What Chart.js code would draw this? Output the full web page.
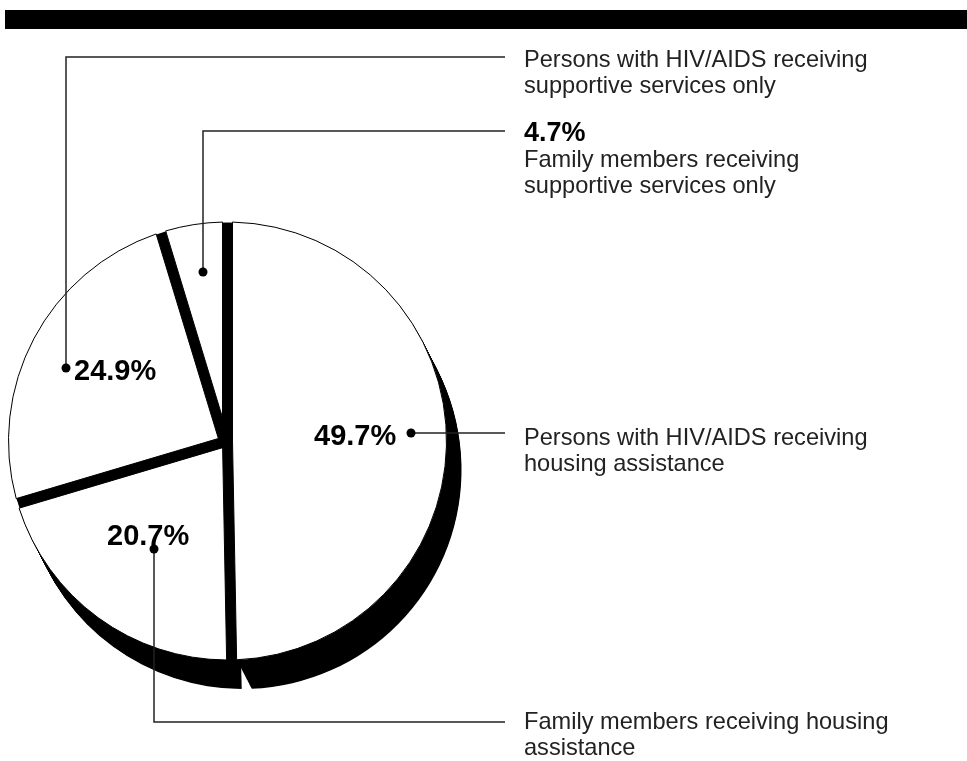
<!DOCTYPE html>
<html>
<head>
<meta charset="utf-8">
<script src="https://cdn.jsdelivr.net/npm/chart.js@4.4.1/dist/chart.umd.min.js"></script>
<style>
  body { margin: 0; background: #fff; }
  canvas { display: block; }
</style>
</head>
<body>
<canvas id="pie" width="967" height="761"></canvas>
<script>
// slices, clockwise from 12 o'clock
const categories = [
  "Persons with HIV/AIDS receiving housing assistance",
  "Family members receiving housing assistance",
  "Persons with HIV/AIDS receiving supportive services only",
  "Family members receiving supportive services only",
];
const shares = [49.7, 20.7, 24.9, 4.7];
// text shown next to each slice's leader line (line breaks as in the print)
const labelLines = [
  ["Persons with HIV/AIDS receiving", "housing assistance"],
  ["Family members receiving housing", "assistance"],
  ["Persons with HIV/AIDS receiving", "supportive services only"],
  ["Family members receiving", "supportive services only"],
];

// how far each slice edge is pulled in (start side, end side), px
const INSETS = [[5, 5], [5, 5], [5, 8], [2, 5]];
const DEPTH = [15, 29];    // extrusion of the pie (dx, dy)
const FONT = "'Liberation Sans', Arial, Helvetica, sans-serif";

function slicePath(ctx, arc, inset, dx, dy) {
  const { outerRadius: r, startAngle: a0, endAngle: a1 } = arc;
  const x = arc.x + dx, y = arc.y + dy;
  const [h0, h1] = inset;
  const u0 = [Math.cos(a0), Math.sin(a0)], n0 = [-u0[1], u0[0]];
  const u1 = [Math.cos(a1), Math.sin(a1)], n1 = [-u1[1], u1[0]];
  // where the two pulled-in edges meet
  const rx = -h1 * n1[0] - h0 * n0[0];
  const ry = -h1 * n1[1] - h0 * n0[1];
  const det = -u0[0] * u1[1] + u1[0] * u0[1];
  const s = (rx * -u1[1] + u1[0] * ry) / det;
  const px = x + h0 * n0[0] + s * u0[0];
  const py = y + h0 * n0[1] + s * u0[1];
  ctx.beginPath();
  ctx.moveTo(px, py);
  ctx.arc(x, y, r, a0 + Math.asin(h0 / r), a1 - Math.asin(h1 / r));
  ctx.closePath();
}

const pieDepth = {
  id: "pieDepth",
  beforeDatasetDraw(chart, args) {
    const ctx = chart.ctx;
    const arcs = args.meta.data;
    ctx.save();
    ctx.fillStyle = "#000";
    // solid body
    const steps = 40;
    arcs.forEach((arc, i) => {
      for (let k = steps; k >= 1; k--) {
        const t = k / steps;
        slicePath(ctx, arc, INSETS[i], DEPTH[0] * t, DEPTH[1] * t);
        ctx.fill();
      }
    });
    const a = arcs[0];
    ctx.beginPath();
    ctx.arc(a.x, a.y, a.outerRadius - 0.5, 0, Math.PI * 2);
    ctx.fill();
    // white tops
    arcs.forEach((arc, i) => {
      slicePath(ctx, arc, INSETS[i], 0, 0);
      ctx.fillStyle = arc.options.backgroundColor;
      ctx.fill();
      ctx.lineWidth = arc.options.borderWidth;
      ctx.strokeStyle = arc.options.borderColor;
      ctx.stroke();
    });
    ctx.restore();
    return false;
  },
};

function leader(ctx, pts) {
  ctx.beginPath();
  ctx.moveTo(pts[0][0], pts[0][1]);
  for (let i = 1; i < pts.length; i++) ctx.lineTo(pts[i][0], pts[i][1]);
  ctx.stroke();
  ctx.beginPath();
  ctx.arc(pts[0][0], pts[0][1], 4.5, 0, Math.PI * 2);
  ctx.fill();
}

function textLines(ctx, lines, x, y0) {
  lines.forEach((s, i) => ctx.fillText(s, x, y0 + i * 26));
}

const annotations = {
  id: "annotations",
  afterDraw(chart) {
    const ctx = chart.ctx;
    ctx.save();
    // heavy rule across the top
    ctx.fillStyle = "#000";
    ctx.fillRect(5, 10, 962, 19);

    ctx.strokeStyle = "#222";
    ctx.fillStyle = "#000";
    ctx.lineWidth = 1.5;
    leader(ctx, [[66, 368], [66, 57], [505, 57]]);
    leader(ctx, [[203, 272], [203, 131], [505, 131]]);
    leader(ctx, [[411, 433], [505, 433]]);
    leader(ctx, [[154, 549], [154, 722], [505, 722]]);

    const pct = (v) => v.toFixed(1) + "%";
    ctx.fillStyle = "#000";
    ctx.textBaseline = "alphabetic";
    ctx.font = "bold 29px " + FONT;
    ctx.fillText(pct(shares[0]), 314, 445);
    ctx.fillText(pct(shares[1]), 107, 545);
    ctx.fillText(pct(shares[2]), 74, 380);
    ctx.font = "bold 27px " + FONT;
    ctx.fillText(pct(shares[3]), 524, 141);

    ctx.fillStyle = "#222";
    ctx.font = "23.6px " + FONT;
    textLines(ctx, labelLines[2], 524, 67);
    textLines(ctx, labelLines[3], 524, 167);
    textLines(ctx, labelLines[0], 524, 445);
    textLines(ctx, labelLines[1], 524, 729);
    ctx.restore();
  },
};

new Chart(document.getElementById("pie"), {
  type: "pie",
  data: {
    labels: categories,
    datasets: [{
      data: shares,
      backgroundColor: "#fff",
      borderColor: "#000",
      borderWidth: 1,
    }],
  },
  options: {
    responsive: false,
    animation: false,
    events: [],
    radius: 219,
    layout: { padding: { left: 8, right: 520, top: 222, bottom: 101 } },
    plugins: { legend: { display: false }, tooltip: { enabled: false } },
  },
  plugins: [pieDepth, annotations],
});
</script>
</body>
</html>
